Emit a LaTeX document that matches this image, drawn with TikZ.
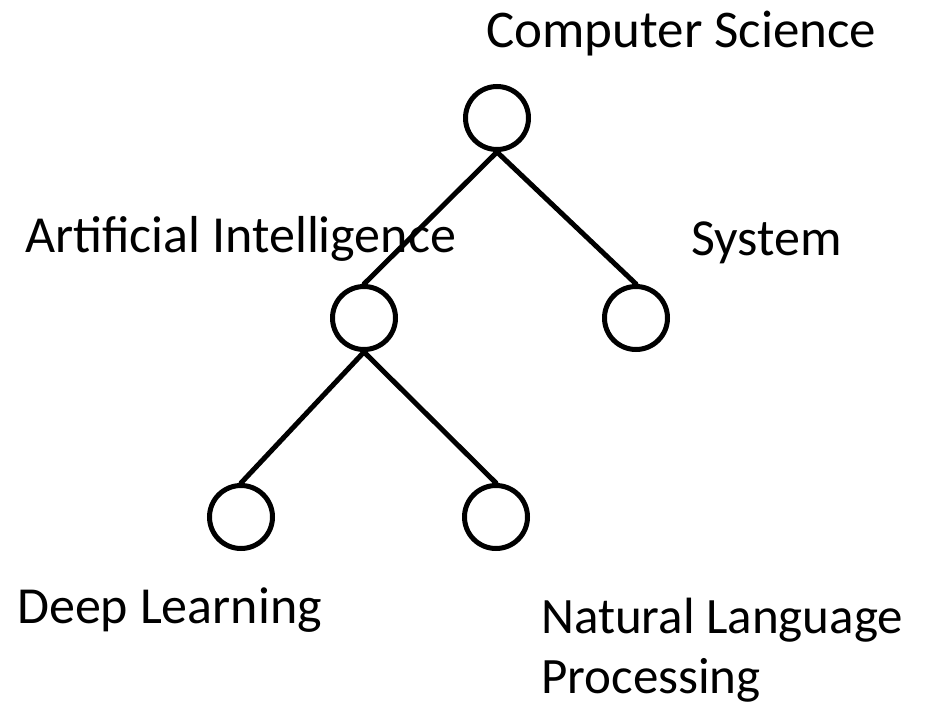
\documentclass[tikz,border=0pt]{standalone}
\usepackage{fontspec}
\setmainfont{Carlito}
\begin{document}
\begin{tikzpicture}[x=1pt,y=-1pt,
  treenode/.style={circle,draw=black,line width=5pt,minimum size=63pt,inner sep=0pt},
  edge/.style={line width=5pt,line cap=round},
  lbl/.style={anchor=base west,inner sep=0pt,font=\fontsize{52}{60}\selectfont}]
  \useasboundingbox (0,0) rectangle (934,704);
  % tree nodes
  \node[treenode] (cs)  at (497,118) {};
  \node[treenode] (ai)  at (364,318) {};
  \node[treenode] (sys) at (636,318) {};
  \node[treenode] (dl)  at (241,517) {};
  \node[treenode] (nlp) at (496,517) {};
  % branches
  \draw[edge] (cs.south) -- (ai.north);
  \draw[edge] (cs.south) -- (sys.north);
  \draw[edge] (ai.south) -- (dl.north);
  \draw[edge] (ai.south) -- (nlp.north);
  % labels
  \node[lbl,font=\fontsize{53}{60}\selectfont] (tcs) at (486,47) {Computer Science};
  \node[lbl] (tai)  at (25,252)  {Artificial Intelligence};
  \node[lbl] (tsys) at (691,255) {System};
  \node[lbl] (tdl)  at (17,623)  {Deep Learning};
  \node[lbl,font=\fontsize{51}{60}\selectfont] (tnlp1) at (541,633) {Natural Language};
  \node[lbl,font=\fontsize{51}{60}\selectfont] (tnlp2) at (541,693) {Processing};
\end{tikzpicture}
\end{document}
